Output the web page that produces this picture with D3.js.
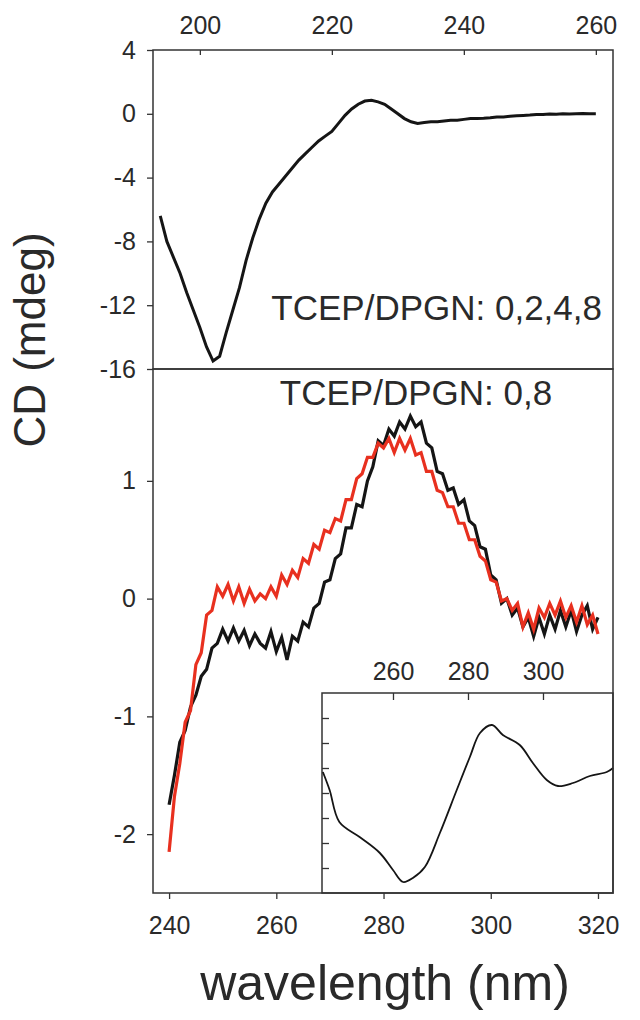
<!DOCTYPE html>
<html>
<head>
<meta charset="utf-8">
<script src="https://cdn.jsdelivr.net/npm/d3@7"></script>
<style>
  body { margin: 0; background: #fff; }
  svg text { font-family: "Liberation Sans", Arial, sans-serif; fill: #2a2a2a; }
  .axis text { font-size: 25px; }
  .axis line { stroke: #333; stroke-width: 1.3; }
  .axis path { display: none; }
</style>
</head>
<body>
<div id="chart"></div>
<script>
(function() {
  // top panel: far-UV CD, 1 nm steps starting at 194 nm
  var topStart = 194
  var topCD = [-6.4, -8.0, -9.0, -10.0, -11.2, -12.3, -13.4, -14.6, -15.5, -15.2,
    -13.7, -12.3, -10.9, -9.2, -7.8, -6.6, -5.6, -4.9, -4.4, -3.9,
    -3.4, -2.9, -2.5, -2.1, -1.7, -1.4, -1.1, -0.6, -0.1, 0.3,
    0.6, 0.8, 0.85, 0.75, 0.6, 0.3, 0.0, -0.3, -0.5, -0.6,
    -0.55, -0.5, -0.5, -0.45, -0.4, -0.4, -0.35, -0.3, -0.3, -0.28,
    -0.25, -0.2, -0.2, -0.15, -0.12, -0.1, -0.08, -0.05, -0.05, -0.02,
    -0.03, 0.0, -0.02, 0.0, 0.02, 0.0, 0.0]
  var topXTicks = [200, 220, 240, 260]
  var topYTicks = [4, 0, -4, -8, -12, -16]

  // bottom panel: near-UV CD, 1 nm steps starting at 240 nm
  var botStart = 240
  var blackCD = [-1.75, -1.5, -1.22, -1.12, -0.92, -0.82, -0.66, -0.6, -0.42, -0.38,
    -0.26, -0.36, -0.25, -0.36, -0.27, -0.4, -0.3, -0.38, -0.42, -0.28,
    -0.45, -0.33, -0.52, -0.32, -0.36, -0.2, -0.24, -0.08, -0.04, 0.14,
    0.16, 0.34, 0.38, 0.6, 0.6, 0.8, 0.78, 1.0, 1.12, 1.34,
    1.3, 1.44, 1.38, 1.5, 1.44, 1.55, 1.46, 1.5, 1.32, 1.28,
    1.08, 1.06, 0.92, 0.94, 0.8, 0.84, 0.66, 0.62, 0.44, 0.42,
    0.2, 0.16, -0.04, 0.0, -0.14, -0.08, -0.24, -0.16, -0.32, -0.16,
    -0.3, -0.14, -0.26, -0.1, -0.24, -0.1, -0.28, -0.14, -0.06, -0.26,
    -0.16]
  var redCD = [-2.15, -1.68, -1.4, -1.05, -0.95, -0.56, -0.46, -0.14, -0.1, 0.1,
    0.02, 0.12, -0.02, 0.1, -0.04, 0.08, -0.02, 0.04, 0.0, 0.1,
    0.02, 0.2, 0.12, 0.24, 0.18, 0.34, 0.3, 0.46, 0.42, 0.58,
    0.56, 0.68, 0.66, 0.84, 0.84, 1.02, 1.06, 1.2, 1.2, 1.32,
    1.28, 1.36, 1.24, 1.36, 1.26, 1.36, 1.22, 1.24, 1.08, 1.08,
    0.92, 0.9, 0.78, 0.78, 0.64, 0.64, 0.5, 0.5, 0.36, 0.32,
    0.16, 0.14, -0.02, 0.0, -0.1, -0.04, -0.24, -0.12, -0.26, -0.08,
    -0.16, -0.04, -0.14, -0.02, -0.16, -0.06, -0.2, -0.06, -0.22, -0.14,
    -0.3]
  var botXTicks = [240, 260, 280, 300, 320]
  var botYTicks = [1, 0, -1, -2]

  // inset (arbitrary units, unlabeled y ticks)
  var insetWl = [241.3, 243.1, 245.7, 251.1, 256.5, 260, 262.7, 265.3, 268.5, 272.5,
    277, 280.5, 283.2, 286.4, 289.3, 293.8, 297.3, 301, 304, 308, 312.5, 317, 318.7]
  var insetCD = [-2.16, -2.88, -4.16, -4.76, -5.4, -6.08, -6.56, -6.4, -5.96, -4.6,
    -2.88, -1.56, -0.6, -0.28, -0.68, -1.08, -1.8, -2.48, -2.72, -2.6, -2.32, -2.16, -2.0]
  var insetXTicks = [260, 280, 300]
  var insetYTicks = [0, -1, -2, -3, -4, -5, -6]

  var left = 153, right = 613
  var topY0 = 50, midY = 369, botY1 = 893
  var insetLeft = 322, insetTop = 693

  var fmt = d => String(d)

  var svg = d3.select("#chart").append("svg")
    .attr("width", 640).attr("height", 1020)

  var xTop = d3.scaleLinear().domain([192.9, 262.6]).range([left, right])
  var yTop = d3.scaleLinear().domain([-16, 4]).range([midY, topY0])
  var xBot = d3.scaleLinear().domain([237.0, 322.8]).range([left, right])
  var yBot = d3.scaleLinear().domain([-2.5, 1.95]).range([botY1, midY])
  var xIn = d3.scaleLinear().domain([241.07, 318.67]).range([insetLeft, right])
  var yIn = d3.scaleLinear().domain([-7, 1]).range([botY1, insetTop])

  var topData = topCD.map((v, i) => ({x: topStart + i, y: v}))
  var blackData = blackCD.map((v, i) => ({x: botStart + i, y: v}))
  var redData = redCD.map((v, i) => ({x: botStart + i, y: v}))
  var insetData = insetCD.map((v, i) => ({x: insetWl[i], y: v}))

  // top panel
  svg.append("path")
    .datum(topData)
    .attr("fill", "none")
    .attr("stroke", "#151515")
    .attr("stroke-width", 3)
    .attr("d", d3.line().x(d => xTop(d.x)).y(d => yTop(d.y)))

  svg.append("g").attr("class", "axis")
    .attr("transform", "translate(0," + topY0 + ")")
    .call(d3.axisTop(xTop).tickValues(topXTicks).tickFormat(fmt).tickSize(-5).tickPadding(16))

  svg.append("g").attr("class", "axis")
    .attr("transform", "translate(" + left + ",0)")
    .call(d3.axisLeft(yTop).tickValues(topYTicks).tickFormat(fmt).tickSize(6).tickPadding(11))

  // bottom panel
  var lineBot = d3.line().x(d => xBot(d.x)).y(d => yBot(d.y))
  svg.append("path").datum(blackData)
    .attr("fill", "none").attr("stroke", "#151515").attr("stroke-width", 3.2)
    .attr("d", lineBot)
  svg.append("path").datum(redData)
    .attr("fill", "none").attr("stroke", "#e8301f").attr("stroke-width", 3.2)
    .attr("d", lineBot)

  svg.append("g").attr("class", "axis")
    .attr("transform", "translate(0," + botY1 + ")")
    .call(d3.axisBottom(xBot).tickValues(botXTicks).tickFormat(fmt).tickSize(6).tickPadding(17))

  svg.append("g").attr("class", "axis")
    .attr("transform", "translate(" + left + ",0)")
    .call(d3.axisLeft(yBot).tickValues(botYTicks).tickFormat(fmt).tickSize(6).tickPadding(11))

  // inset
  svg.append("rect")
    .attr("x", insetLeft).attr("y", insetTop)
    .attr("width", right - insetLeft).attr("height", botY1 - insetTop)
    .attr("fill", "#fff").attr("stroke", "#333").attr("stroke-width", 1.5)

  svg.append("path").datum(insetData)
    .attr("fill", "none").attr("stroke", "#151515").attr("stroke-width", 1.8)
    .attr("d", d3.line().curve(d3.curveCatmullRom).x(d => xIn(d.x)).y(d => yIn(d.y)))

  svg.append("g").attr("class", "axis")
    .attr("transform", "translate(0," + insetTop + ")")
    .call(d3.axisTop(xIn).tickValues(insetXTicks).tickFormat(fmt).tickSize(-7).tickPadding(13))

  svg.append("g").attr("class", "axis")
    .attr("transform", "translate(" + insetLeft + ",0)")
    .call(d3.axisLeft(yIn).tickValues(insetYTicks).tickSize(-7).tickFormat(""))

  // frames
  svg.append("rect")
    .attr("x", left).attr("y", topY0)
    .attr("width", right - left).attr("height", midY - topY0)
    .attr("fill", "none").attr("stroke", "#333").attr("stroke-width", 1.5)
  svg.append("rect")
    .attr("x", left).attr("y", midY)
    .attr("width", right - left).attr("height", botY1 - midY)
    .attr("fill", "none").attr("stroke", "#333").attr("stroke-width", 1.5)

  // labels
  svg.append("text")
    .attr("x", 602).attr("y", 320)
    .attr("text-anchor", "end")
    .style("font-size", "35px")
    .text("TCEP/DPGN: 0,2,4,8")

  svg.append("text")
    .attr("x", 416).attr("y", 405)
    .attr("text-anchor", "middle")
    .style("font-size", "35px")
    .text("TCEP/DPGN: 0,8")

  svg.append("text")
    .attr("transform", "translate(45,340) rotate(-90)")
    .attr("text-anchor", "middle")
    .style("font-size", "44px")
    .text("CD (mdeg)")

  svg.append("text")
    .attr("x", 385).attr("y", 1000)
    .attr("text-anchor", "middle")
    .style("font-size", "50px")
    .text("wavelength (nm)")
})()
</script>
</body>
</html>
